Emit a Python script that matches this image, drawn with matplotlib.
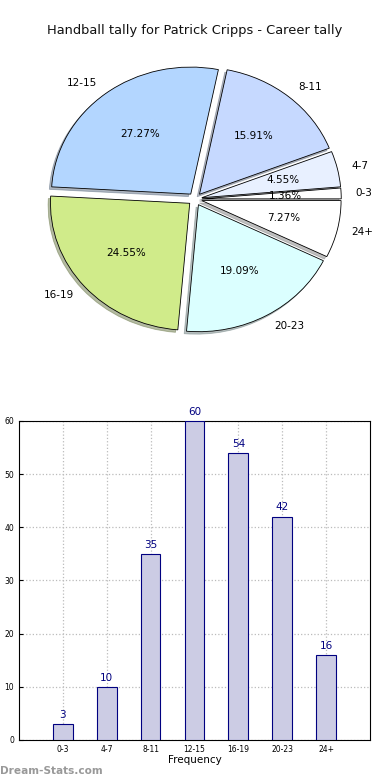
"""
Handball tally pie + frequency bars for Patrick Cripps.
"""
import matplotlib
matplotlib.use("Agg")
import matplotlib.pyplot as plt

OUTPUT = "out.png"

CATEGORIES = ["0-3", "4-7", "8-11", "12-15", "16-19", "20-23", "24+"]
COUNTS     = [3, 10, 35, 60, 54, 42, 16]
PIE_COLORS = ["#ffffff", "#e8f0ff", "#c6d9ff", "#b3d6ff",
              "#d0eb8a", "#dbffff", "#ffffff"]

BAR_COLOR = "#ccccE4"
NAVY      = "#000080"


def draw():
    fig = plt.figure(figsize=(3.9, 7.8), dpi=100)
    fig.patch.set_facecolor("white")

    fig.text(0.5, 0.9615, "Handball tally for Patrick Cripps - Career tally",
             ha="center", va="center", fontsize=9.4, color="#111111")

    # pie (old-style, not forced round)
    ax = fig.add_axes([0.0, 0.5167, 1.0, 0.456])
    ax.pie(COUNTS, labels=CATEGORIES, colors=PIE_COLORS,
           explode=[0.05] * len(COUNTS), autopct="%1.2f%%",
           shadow=dict(ox=-0.012, oy=-0.014, shade=0.5),
           startangle=0, wedgeprops=dict(edgecolor="black", linewidth=0.6),
           textprops=dict(fontsize=7.5))
    ax.set_xlim(-1.4, 1.4)
    ax.set_ylim(-1.4, 1.4)
    ax.set_aspect("auto")
    ax.axis("off")

    # bars
    bx = fig.add_axes([0.0487, 0.0513, 0.9, 0.409])
    x = list(range(len(CATEGORIES)))
    bx.bar(x, COUNTS, width=0.45, color=BAR_COLOR, edgecolor=NAVY,
           linewidth=0.8, zorder=3)
    for xi, v in zip(x, COUNTS):
        bx.text(xi, v + 0.8, str(v), ha="center", va="bottom",
                color=NAVY, fontsize=7.5, zorder=4)
    bx.set_xlim(-1, 7)
    bx.set_ylim(0, 60)
    bx.set_xticks(x)
    bx.set_xticklabels(CATEGORIES, fontsize=5.5)
    bx.set_yticks(range(0, 61, 10))
    bx.tick_params(axis="y", labelsize=5.5)
    bx.tick_params(direction="in", length=3)
    bx.grid(True, linestyle=":", color="#bbbbbb", linewidth=0.9, zorder=0)
    bx.set_axisbelow(True)
    bx.set_xlabel("Frequency", fontsize=7.5, labelpad=1)

    fig.text(0.0, 0.0115, "Dream-Stats.com", ha="left", va="center",
             fontsize=7.6, color="#999999", fontweight="bold")

    fig.savefig(OUTPUT, dpi=100, facecolor="white")
    plt.close(fig)


if __name__ == "__main__":
    draw()
